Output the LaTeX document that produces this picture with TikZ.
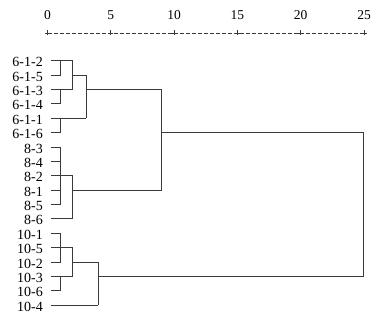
\documentclass[tikz,border=0pt]{standalone}
\usepackage{fontspec}
\setmainfont{Liberation Serif}
\definecolor{ln}{HTML}{3A3A3A}
\begin{document}
\begin{tikzpicture}[x=1pt,y=-1pt,
  lbl/.style={anchor=base east, inner sep=0pt, font=\fontsize{14}{14}\selectfont},
  tlbl/.style={anchor=base, inner sep=0pt, font=\fontsize{13.5}{13.5}\selectfont},
  br/.style={draw=ln, line width=1pt},
  axisline/.style={draw=ln, line width=0.8pt, dash pattern=on 4pt off 2pt},
  tickmark/.style={draw=ln, line width=0.8pt}]
\useasboundingbox (0,0) rectangle (388,318);
% axis
\coordinate (a0) at (47.5,33);
\coordinate (a25) at (364,33);
\draw[axisline] (a0) -- (a25);
\foreach \v in {0,5,10,15,20,25}{
  \pgfmathsetmacro{\xx}{47.5+12.66*\v}
  \node[tlbl] (t\v) at (\xx,19.3) {\v};
  \coordinate (k\v) at (\xx,33);
  \draw[tickmark] ([yshift=-2.5pt]k\v) -- ([yshift=2.5pt]k\v);
  \draw[tickmark] ([xshift=-2.5pt]k\v) -- ([xshift=2.5pt]k\v);
}
% leaves
\foreach \lab [count=\i from 0] in {6-1-2,6-1-5,6-1-3,6-1-4,6-1-1,6-1-6,8-3,8-4,8-2,8-1,8-5,8-6,10-1,10-5,10-2,10-3,10-6,10-4}{
  \pgfmathsetmacro{\yy}{60.7+14.39*\i}
  \node[lbl] (n\i) at (43,\yy+6) {\lab};
  \coordinate (l\i) at (51,\yy);
}
% merge x positions
\def\xa{60.7}\def\xb{72.7}\def\xc{86}\def\xd{98.3}\def\xe{161.7}\def\xf{363.3}
% leaf lines
\foreach \i/\x in {0/\xb,1/\xa,2/\xb,3/\xa,4/\xc,5/\xa,6/\xa,7/\xa,8/\xb,9/\xa,10/\xa,11/\xb,12/\xa,13/\xb,14/\xa,15/\xb,16/\xa,17/\xd}{
  \draw[br] (l\i) -- (l\i -| \x,0);
}
% first-level verticals
\foreach \a/\b in {0/1,2/3,4/5,6/10,12/14,15/16}{
  \draw[br] (l\a -| \xa,0) -- (l\b -| \xa,0);
}
% second-level verticals
\foreach \a/\b in {0/2,8/11,13/15}{
  \draw[br] (l\a -| \xb,0) -- (l\b -| \xb,0);
}
% 6-1 group
\draw[br] (l1 -| \xb,0) -- (l1 -| \xc,0) -- (l4 -| \xc,0);
\draw[br] (l2 -| \xc,0) -- (l2 -| \xe,0) -- (l9 -| \xe,0) -- (l9 -| \xb,0);
% 10 group
\draw[br] (l14 -| \xb,0) -- (l14 -| \xd,0) -- (l17 -| \xd,0);
% top joins
\draw[br] (l5 -| \xe,0) -- (l5 -| \xf,0) -- (l15 -| \xf,0) -- (l15 -| \xd,0);
\end{tikzpicture}
\end{document}
